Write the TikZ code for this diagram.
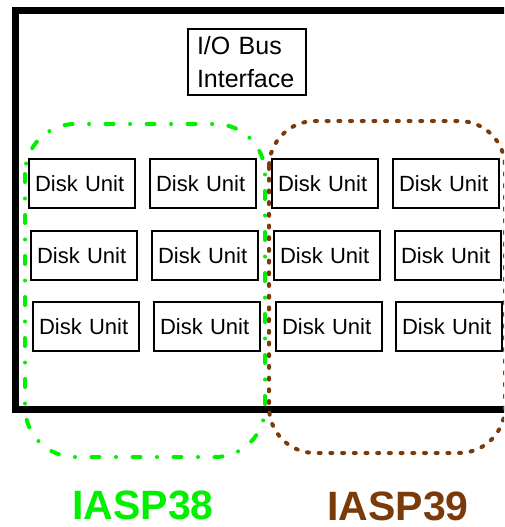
\documentclass[tikz,border=0pt]{standalone}
\usepackage{fontspec}
\setmainfont{Liberation Sans}
\definecolor{iaspgreen}{RGB}{0,240,0}
\definecolor{iaspbrown}{RGB}{122,58,10}
\begin{document}
\begin{tikzpicture}[x=1pt,y=-1pt,
  disk/.style={draw=black, line width=2pt, fill=white, minimum width=106pt, minimum height=49pt,
    text width=94pt, inner xsep=6pt, inner ysep=0pt, align=left, font=\fontsize{22}{26}\selectfont, anchor=north west},
  busbox/.style={draw=black, line width=2pt, fill=white, text width=100pt, inner xsep=9pt, inner ysep=0pt,
    minimum height=66pt, align=left, font=\fontsize{25}{33}\selectfont, anchor=north west},
  greenloop/.style={draw=iaspgreen, line width=4pt, line cap=round, dash pattern=on 8pt off 16.5pt on 0pt off 16.5pt, rounded corners=50pt},
  brownloop/.style={draw=iaspbrown, line width=4pt, line cap=round, dash pattern=on 2pt off 9.7pt, rounded corners=46pt},
  label/.style={font=\fontsize{41}{41}\selectfont\bfseries, anchor=base}
]
\useasboundingbox (0,0) rectangle (504,527);
\begin{scope}
\clip (0,0) rectangle (504,527);
% outer chassis
\draw[line width=7pt] (520,10.5) -- (15.5,10.5) -- (15.5,409.5) -- (520,409.5);
% I/O bus
\node[busbox] (bus) at (187,28) {I/O Bus\\Interface};
% disk units
\node[disk] (d11) at (28,158) {Disk Unit};
\node[disk] (d12) at (149,158) {Disk Unit};
\node[disk] (d13) at (271,158) {Disk Unit};
\node[disk] (d14) at (392,158) {Disk Unit};
\node[disk] (d21) at (30,230) {Disk Unit};
\node[disk] (d22) at (151,230) {Disk Unit};
\node[disk] (d23) at (273,230) {Disk Unit};
\node[disk] (d24) at (394,230) {Disk Unit};
\node[disk] (d31) at (32,301) {Disk Unit};
\node[disk] (d32) at (153,301) {Disk Unit};
\node[disk] (d33) at (275,301) {Disk Unit};
\node[disk] (d34) at (395,301) {Disk Unit};
% IASP groups
\draw[greenloop] (25,124) rectangle (265,457);
\draw[brownloop] (269,121) rectangle (505,453);
\end{scope}
\node[label, text=iaspgreen] (l38) at (143,519) {IASP38};
\node[label, text=iaspbrown] (l39) at (398,520) {IASP39};
\end{tikzpicture}
\end{document}
